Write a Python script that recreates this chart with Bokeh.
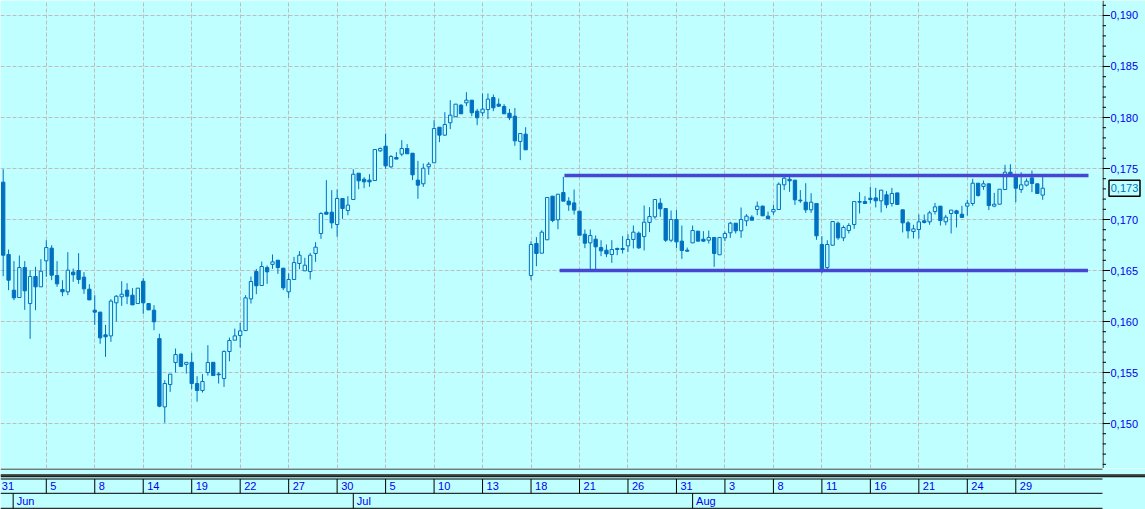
import numpy as np
from bokeh.plotting import figure
from bokeh.models import Range1d, FixedTicker, ColumnDataSource
from bokeh.layouts import column, row
from bokeh.embed import file_html
from bokeh.resources import INLINE
from bokeh.core.properties import value

# ---------------- data ----------------
opens = [0.17366, 0.16657, 0.16307, 0.16235, 0.16529, 0.16176, 0.16441, 0.16340, 0.16595, 0.16719,
         0.16451, 0.16314, 0.16291, 0.16484, 0.16500, 0.16435, 0.16317, 0.16111, 0.16092, 0.15869,
         0.15859, 0.16183, 0.16242, 0.16307, 0.16258, 0.16176, 0.16395, 0.16176, 0.16111, 0.15833,
         0.15163, 0.15382, 0.15598, 0.15680, 0.15580, 0.15600, 0.15392, 0.15324, 0.15500, 0.15600,
         0.15485, 0.15441, 0.15706, 0.15817, 0.15863, 0.15911, 0.16222, 0.16490, 0.16353, 0.16529,
         0.16560, 0.16601, 0.16523, 0.16291, 0.16412, 0.16569, 0.16497, 0.16490, 0.16667, 0.16863,
         0.17072, 0.17072, 0.16951, 0.17206, 0.17088, 0.17196, 0.17454, 0.17395, 0.17386, 0.17382,
         0.17673, 0.17719, 0.17516, 0.17608, 0.17641, 0.17696, 0.17650, 0.17386, 0.17350, 0.17516,
         0.17556, 0.17905, 0.17827, 0.17948, 0.18007, 0.18121, 0.18144, 0.18170, 0.18062, 0.18046,
         0.18078, 0.18196, 0.18131, 0.18108, 0.18042, 0.18013, 0.17765, 0.17837, 0.16451, 0.16765,
         0.16670, 0.16801, 0.17229, 0.16997, 0.17265, 0.17180, 0.17163, 0.17082, 0.16856, 0.16771,
         0.16807, 0.16725, 0.16699, 0.16657, 0.16716, 0.16716, 0.16742, 0.16804, 0.16866, 0.16833,
         0.16971, 0.17026, 0.17160, 0.17108, 0.16797, 0.17000, 0.16788, 0.16699, 0.16771, 0.16886,
         0.16807, 0.16797, 0.16824, 0.16654, 0.16820, 0.16869, 0.16964, 0.16889, 0.16987, 0.17023,
         0.17098, 0.17131, 0.17033, 0.17075, 0.17098, 0.17340, 0.17395, 0.17386, 0.17190, 0.17170,
         0.17095, 0.17157, 0.16755, 0.16529, 0.16748, 0.16964, 0.16820, 0.16892, 0.16951, 0.17176,
         0.17176, 0.17209, 0.17212, 0.17183, 0.17242, 0.17157, 0.17261, 0.17095, 0.16967, 0.16882,
         0.16902, 0.16987, 0.16977, 0.17078, 0.17131, 0.16977, 0.17059, 0.17085, 0.17052, 0.17131,
         0.17157, 0.17356, 0.17324, 0.17350, 0.17131, 0.17150, 0.17294, 0.17464, 0.17431, 0.17294,
         0.17337, 0.17408, 0.17350, 0.17239]
highs = [0.17493, 0.16706, 0.16592, 0.16647, 0.16592, 0.16503, 0.16536, 0.16611, 0.16797, 0.16748,
         0.16592, 0.16405, 0.16680, 0.16520, 0.16670, 0.16484, 0.16366, 0.16258, 0.16095, 0.15967,
         0.16219, 0.16258, 0.16395, 0.16376, 0.16327, 0.16327, 0.16425, 0.16180, 0.16160, 0.15880,
         0.15425, 0.15484, 0.15735, 0.15686, 0.15600, 0.15693, 0.15464, 0.15484, 0.15768, 0.15600,
         0.15503, 0.15716, 0.15843, 0.15931, 0.15987, 0.16258, 0.16441, 0.16516, 0.16588, 0.16549,
         0.16657, 0.16601, 0.16523, 0.16471, 0.16634, 0.16690, 0.16624, 0.16673, 0.16778, 0.17072,
         0.17386, 0.17288, 0.17294, 0.17206, 0.17229, 0.17493, 0.17454, 0.17415, 0.17444, 0.17686,
         0.17706, 0.17843, 0.17631, 0.17660, 0.17778, 0.17739, 0.17650, 0.17575, 0.17549, 0.17562,
         0.17974, 0.17905, 0.18052, 0.18170, 0.18131, 0.18131, 0.18248, 0.18170, 0.18085, 0.18235,
         0.18235, 0.18225, 0.18186, 0.18131, 0.18085, 0.18092, 0.17843, 0.17905, 0.16788, 0.16827,
         0.16895, 0.17216, 0.17229, 0.17248, 0.17418, 0.17219, 0.17294, 0.17082, 0.16902, 0.16902,
         0.16843, 0.16797, 0.16755, 0.16797, 0.16725, 0.16837, 0.16856, 0.16941, 0.16882, 0.17137,
         0.17121, 0.17196, 0.17209, 0.17108, 0.17088, 0.17092, 0.16941, 0.16725, 0.16941, 0.16886,
         0.16886, 0.16892, 0.16824, 0.16824, 0.16882, 0.16977, 0.16964, 0.17118, 0.17052, 0.17042,
         0.17176, 0.17137, 0.17078, 0.17144, 0.17363, 0.17425, 0.17425, 0.17386, 0.17288, 0.17356,
         0.17258, 0.17157, 0.16837, 0.16797, 0.16980, 0.16980, 0.16941, 0.16964, 0.17176, 0.17268,
         0.17229, 0.17320, 0.17310, 0.17288, 0.17278, 0.17310, 0.17261, 0.17095, 0.16987, 0.16948,
         0.17049, 0.17049, 0.17085, 0.17163, 0.17131, 0.17046, 0.17092, 0.17095, 0.17134, 0.17193,
         0.17399, 0.17356, 0.17382, 0.17350, 0.17261, 0.17297, 0.17536, 0.17542, 0.17431, 0.17464,
         0.17402, 0.17480, 0.17350, 0.17425]
lows = [0.16444, 0.16307, 0.16209, 0.16235, 0.16114, 0.15830, 0.16111, 0.16340, 0.16438, 0.16405,
        0.16340, 0.16248, 0.16258, 0.16389, 0.16369, 0.16271, 0.16212, 0.15967, 0.15781, 0.15654,
        0.15801, 0.16000, 0.16154, 0.16170, 0.16163, 0.16176, 0.16075, 0.16114, 0.15915, 0.15160,
        0.15007, 0.15310, 0.15500, 0.15560, 0.15490, 0.15337, 0.15214, 0.15304, 0.15470, 0.15470,
        0.15392, 0.15359, 0.15610, 0.15817, 0.15745, 0.15911, 0.16176, 0.16268, 0.16353, 0.16369,
        0.16516, 0.16467, 0.16307, 0.16232, 0.16412, 0.16513, 0.16497, 0.16412, 0.16585, 0.16810,
        0.17049, 0.16912, 0.16830, 0.17007, 0.17042, 0.17196, 0.17297, 0.17307, 0.17320, 0.17382,
        0.17663, 0.17497, 0.17507, 0.17592, 0.17620, 0.17644, 0.17386, 0.17203, 0.17320, 0.17438,
        0.17556, 0.17758, 0.17820, 0.17886, 0.18007, 0.18036, 0.18111, 0.18013, 0.17925, 0.18013,
        0.17984, 0.18062, 0.18105, 0.18036, 0.17974, 0.17722, 0.17582, 0.17683, 0.16405, 0.16542,
        0.16670, 0.16801, 0.16974, 0.16905, 0.17180, 0.17085, 0.17049, 0.16846, 0.16719, 0.16510,
        0.16510, 0.16641, 0.16631, 0.16575, 0.16650, 0.16667, 0.16683, 0.16716, 0.16712, 0.16696,
        0.16876, 0.17007, 0.17026, 0.16781, 0.16778, 0.16719, 0.16614, 0.16683, 0.16771, 0.16788,
        0.16781, 0.16765, 0.16536, 0.16654, 0.16788, 0.16820, 0.16863, 0.16820, 0.16935, 0.16993,
        0.17042, 0.17036, 0.17007, 0.17046, 0.17098, 0.17288, 0.17271, 0.17144, 0.17163, 0.17065,
        0.17065, 0.16801, 0.16471, 0.16503, 0.16748, 0.16801, 0.16788, 0.16863, 0.16908, 0.17059,
        0.17157, 0.17160, 0.17118, 0.17069, 0.17111, 0.17127, 0.17147, 0.16873, 0.16814, 0.16814,
        0.16814, 0.16961, 0.16948, 0.17049, 0.16941, 0.16944, 0.16863, 0.16922, 0.17020, 0.17039,
        0.17134, 0.17225, 0.17291, 0.17092, 0.17121, 0.17150, 0.17294, 0.17431, 0.17170, 0.17261,
        0.17324, 0.17268, 0.17255, 0.17193]
closes = [0.16650, 0.16405, 0.16232, 0.16529, 0.16301, 0.16441, 0.16340, 0.16493, 0.16725, 0.16454,
          0.16369, 0.16291, 0.16503, 0.16458, 0.16412, 0.16320, 0.16212, 0.16092, 0.15840, 0.15850,
          0.16200, 0.16248, 0.16268, 0.16248, 0.16163, 0.16327, 0.16183, 0.16114, 0.15997, 0.15170,
          0.15392, 0.15484, 0.15676, 0.15560, 0.15600, 0.15392, 0.15324, 0.15412, 0.15598, 0.15470,
          0.15478, 0.15707, 0.15814, 0.15859, 0.15908, 0.16232, 0.16392, 0.16350, 0.16539, 0.16487,
          0.16585, 0.16529, 0.16330, 0.16412, 0.16578, 0.16650, 0.16552, 0.16650, 0.16729, 0.17059,
          0.17052, 0.16967, 0.17206, 0.17108, 0.17141, 0.17444, 0.17379, 0.17369, 0.17369, 0.17686,
          0.17696, 0.17526, 0.17618, 0.17592, 0.17696, 0.17644, 0.17438, 0.17337, 0.17503, 0.17542,
          0.17892, 0.17827, 0.17931, 0.18023, 0.18131, 0.18036, 0.18170, 0.18046, 0.17997, 0.18082,
          0.18180, 0.18095, 0.18111, 0.18036, 0.17997, 0.17771, 0.17843, 0.17683, 0.16755, 0.16667,
          0.16876, 0.17216, 0.16990, 0.17248, 0.17180, 0.17144, 0.17092, 0.16846, 0.16768, 0.16843,
          0.16732, 0.16693, 0.16663, 0.16706, 0.16706, 0.16706, 0.16804, 0.16876, 0.16722, 0.16974,
          0.17029, 0.17196, 0.17105, 0.16797, 0.17000, 0.16781, 0.16696, 0.16690, 0.16892, 0.16788,
          0.16788, 0.16824, 0.16667, 0.16824, 0.16863, 0.16964, 0.16889, 0.17000, 0.17033, 0.16993,
          0.17131, 0.17036, 0.17007, 0.17098, 0.17346, 0.17405, 0.17379, 0.17193, 0.17183, 0.17095,
          0.17170, 0.16840, 0.16516, 0.16755, 0.16980, 0.16820, 0.16922, 0.16941, 0.17176, 0.17170,
          0.17157, 0.17196, 0.17183, 0.17288, 0.17144, 0.17255, 0.17147, 0.16967, 0.16889, 0.16908,
          0.16977, 0.16971, 0.17065, 0.17124, 0.16990, 0.17023, 0.17092, 0.17059, 0.17020, 0.17160,
          0.17356, 0.17235, 0.17350, 0.17137, 0.17150, 0.17297, 0.17464, 0.17431, 0.17307, 0.17340,
          0.17376, 0.17353, 0.17255, 0.17307]

# date strip labels (day numbers) and the bar where each date cell starts
date_labels = ["31", "5", "8", "14", "19", "22", "27", "30", "5", "10", "13", "18",
               "21", "26", "31", "3", "8", "11", "16", "21", "24", "29"]
date_bars = [-1, 8, 17, 26, 35, 44, 53, 62, 71, 80, 89, 98,
             107, 116, 125, 134, 143, 152, 161, 170, 179, 188]
month_labels = ["Jun", "Jul", "Aug"]
month_bars = [1.85, 65, 128]

# horizontal channel drawn on the chart
level_values = [0.17431, 0.16500]
level_start = [104.2, 103.3]
level_end = [201.5, 201.4]

price_ticks = [0.150, 0.155, 0.160, 0.165, 0.170, 0.175, 0.180, 0.185, 0.190]
price_minor = [round(0.146 + 0.001 * i, 3) for i in range(46)]

# ---------------- styling ----------------
BG = "#C0FFFF"
CANDLE = "#0070C0"
LEVEL = "#4646D2"
GRID = "#BDBDBD"
TXT = "#0000EE"
FONT = "Liberation Sans"

N = len(closes)
xs = np.arange(N)
o = np.array(opens); h = np.array(highs); l = np.array(lows); c = np.array(closes)
up = c >= o

x_lo, x_hi = -0.5, 204.1
y_lo, y_hi = 0.14559, 0.19147
FW, FH = 1102, 468
RIGHT = 43
STRIP_H = 41

def base(fig):
    fig.background_fill_color = BG
    fig.border_fill_color = BG
    fig.outline_line_color = None
    return fig

yr = Range1d(y_lo, y_hi)

# ---------------- price panel ----------------
p = base(figure(width=FW, height=FH, x_range=Range1d(x_lo, x_hi), y_range=yr,
                x_axis_location=None, y_axis_location=None,
                toolbar_location=None, output_backend="svg", min_border=0))
p.xgrid.ticker = FixedTicker(ticks=list(range(8, 205, 9)))
p.ygrid.ticker = FixedTicker(ticks=price_ticks)
for g in (p.xgrid, p.ygrid):
    g.grid_line_color = GRID
    g.grid_line_dash = "4 2"
    g.grid_line_width = 1

src = ColumnDataSource(dict(
    x=xs, o=o, h=h, l=l, c=c,
    top=np.maximum(o, c), bottom=np.minimum(o, c),
    fill=[BG if u else CANDLE for u in up],
))
p.segment(x0="x", y0="l", x1="x", y1="h", source=src, line_color=CANDLE, line_width=1)
p.vbar(x="x", width=0.62, top="top", bottom="bottom", source=src,
       fill_color="fill", line_color=CANDLE, line_width=1)
p.segment(x0=level_start, y0=level_values, x1=level_end, y1=level_values,
          line_color=LEVEL, line_width=3.5)

# ---------------- price scale panel (right) ----------------
r = base(figure(width=RIGHT, height=FH, x_range=Range1d(0, RIGHT), y_range=yr,
                x_axis_location=None, y_axis_location=None,
                toolbar_location=None, output_backend="svg", min_border=0))
r.grid.visible = False
r.segment(x0=[0.5], y0=[y_lo], x1=[0.5], y1=[y_hi], line_color="black", line_width=1)
r.segment(x0=[0] * len(price_minor), y0=price_minor, x1=[3.5] * len(price_minor),
          y1=price_minor, line_color="black", line_width=1)
r.segment(x0=[0] * len(price_ticks), y0=price_ticks, x1=[7.5] * len(price_ticks),
          y1=price_ticks, line_color="black", line_width=1)
r.text(x=[8] * len(price_ticks), y=price_ticks,
       text=[f"{t:.3f}".replace(".", ",") for t in price_ticks],
       text_align="left", text_baseline="middle", text_color=TXT,
       text_font=value(FONT), text_font_size="11px")
last = closes[-1]
r.rect(x=[22], y=[last], width=31, height=16, width_units="screen", height_units="screen",
       fill_color=BG, line_color="black", line_width=1.5)
r.text(x=[22], y=[last], text=[f"{last:.3f}".replace(".", ",")],
       text_align="center", text_baseline="middle", text_color=CANDLE,
       text_font=value(FONT), text_font_size="11px")

# ---------------- date strip ----------------
TOTAL_W = FW + RIGHT
sx_hi = x_lo + (x_hi - x_lo) * TOTAL_W / FW
s = base(figure(width=TOTAL_W, height=STRIP_H, x_range=Range1d(x_lo, sx_hi),
                y_range=Range1d(STRIP_H, 0),
                x_axis_location=None, y_axis_location=None, toolbar_location=None,
                output_backend="svg", min_border=0))
s.grid.visible = False

s.segment(x0=[x_lo], y0=[0.5], x1=[x_hi], y1=[0.5], line_color="black", line_width=1)
s.segment(x0=[x_lo], y0=[6.3], x1=[sx_hi], y1=[6.3], line_color="#555555", line_width=1.5)
s.segment(x0=[x_lo], y0=[7.8], x1=[sx_hi], y1=[7.8], line_color="#1E1E1E", line_width=2)
s.segment(x0=[x_lo] * 3, y0=[10.5, 24.8, 39.8], x1=[x_hi] * 3, y1=[10.5, 24.8, 39.8],
          line_color="black", line_width=1)
s.segment(x0=date_bars, y0=[10.5] * len(date_bars), x1=date_bars, y1=[24.8] * len(date_bars),
          line_color="black", line_width=1)
s.text(x=date_bars, y=[17.5] * len(date_bars), text=date_labels, x_offset=4,
       text_align="left", text_baseline="middle", text_color=TXT,
       text_font=value(FONT), text_font_size="11px")
s.segment(x0=month_bars, y0=[24.8] * 3, x1=month_bars, y1=[39.8] * 3,
          line_color="black", line_width=1)
s.text(x=month_bars, y=[32.8] * 3, text=month_labels, x_offset=3.5,
       text_align="left", text_baseline="middle", text_color=TXT,
       text_font=value(FONT), text_font_size="11px")

layout = column(row(p, r, spacing=0), s, spacing=0)
open("out.html", "w").write(file_html(layout, INLINE))
